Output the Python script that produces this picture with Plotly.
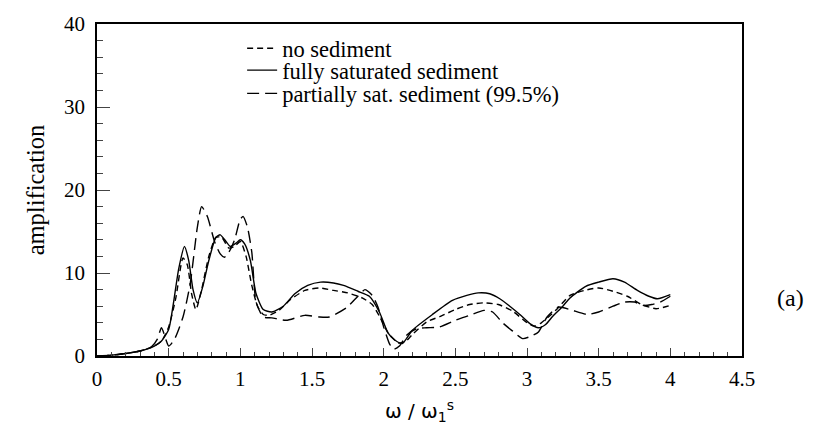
import plotly.graph_objects as go

# no sediment (short dash)
x_none = [0, 0.1, 0.2, 0.3, 0.4, 0.45, 0.5, 0.55, 0.6, 0.63, 0.66, 0.69, 0.73, 0.78, 0.83, 0.87,
          0.92, 0.96, 1.0, 1.04, 1.08, 1.12, 1.16, 1.2, 1.27, 1.35, 1.45, 1.55, 1.65, 1.75, 1.85,
          1.92, 1.97, 2.03, 2.1, 2.15, 2.2, 2.3, 2.4, 2.5, 2.6, 2.7, 2.8, 2.9, 3.0, 3.05, 3.1,
          3.2, 3.3, 3.4, 3.5, 3.6, 3.7, 3.8, 3.9, 4.0]
y_none = [0, 0.1, 0.3, 0.6, 1.2, 1.8, 3.5, 7, 11.8, 11, 7.5, 5.6, 8, 12, 14.3, 14.3,
          13, 13.2, 13.8, 12, 8.5, 6, 5, 4.9, 5.5, 6.8, 7.9, 8.2, 7.9, 7.6, 7,
          6.2, 4.8, 2.8, 1.6, 1.7, 2.6, 4.1, 4.8, 5.6, 6.2, 6.4, 6.2, 5.4, 4.0, 3.6, 4.0,
          5.5, 7.3, 7.9, 8.2, 7.8, 7.2, 6.2, 5.7, 6.1]

# fully saturated sediment (solid)
x_full = [0, 0.1, 0.2, 0.3, 0.4, 0.45, 0.5, 0.53, 0.57, 0.61, 0.64, 0.67, 0.7, 0.74, 0.78, 0.83,
          0.86, 0.9, 0.93, 0.97, 1.0, 1.03, 1.07, 1.11, 1.16, 1.22, 1.3, 1.38, 1.47, 1.56, 1.65,
          1.72, 1.82, 1.9, 1.97, 2.03, 2.08, 2.13, 2.2, 2.34, 2.48, 2.58, 2.66, 2.74, 2.81, 2.88,
          2.95, 3.02, 3.08, 3.13, 3.18, 3.25, 3.3, 3.41, 3.5, 3.6, 3.68, 3.77, 3.85, 3.91, 4.0]
y_full = [0, 0.1, 0.3, 0.6, 1.2, 1.8, 3.2, 6.0, 10.5, 13.2, 11.5, 8, 6.4, 8.5, 11.5, 14.3,
          14.6, 13.8, 13.2, 13.6, 14.0, 13.5, 11.5, 7.5, 5.6, 5.3, 6.0, 7.5, 8.5, 8.9, 8.8,
          8.5, 7.8, 7.2, 5.3, 2.8, 1.9, 1.5, 3.1, 5.0, 6.7, 7.3, 7.6, 7.5, 6.9, 6.0,
          5.0, 3.9, 3.4, 3.8, 4.8, 6.0, 7.0, 8.4, 8.9, 9.3, 8.9, 7.9, 7.2, 6.9, 7.4]

# partially saturated sediment 99.5% (long dash)
x_part = [0, 0.1, 0.2, 0.3, 0.38, 0.42, 0.45, 0.48, 0.5, 0.54, 0.6, 0.65, 0.7, 0.73, 0.77, 0.82,
          0.86, 0.89, 0.92, 0.96, 1.0, 1.02, 1.05, 1.08, 1.11, 1.16, 1.22, 1.32, 1.45, 1.55, 1.62,
          1.74, 1.82, 1.87, 1.92, 1.96, 2.0, 2.04, 2.07, 2.11, 2.16, 2.23, 2.3, 2.39, 2.5, 2.6,
          2.7, 2.76, 2.83, 2.9, 2.97, 3.03, 3.08, 3.14, 3.22, 3.3, 3.42, 3.5, 3.6, 3.68, 3.75,
          3.81, 3.87, 3.93, 4.0]
y_part = [0, 0.1, 0.3, 0.6, 1.1, 2.0, 3.4, 2.0, 1.2, 2.0, 4.7, 8.7, 15.5, 18.0, 16.8, 13.8,
          12.3, 11.9, 12.5, 14.0, 16.5, 16.8, 15.5, 12.5, 6.5, 4.7, 4.6, 4.3, 4.9, 4.7, 4.7,
          5.8, 7.2, 8.0, 7.3, 5.9, 3.5, 1.5, 0.8, 1.2, 2.5, 3.3, 3.4, 3.5, 4.3, 4.9,
          5.5, 5.3, 4.0, 3.0, 2.1, 2.4, 2.9, 4.7, 5.9, 5.6, 5.0, 5.3, 6.0, 6.5, 6.5,
          6.1, 6.2, 6.5, 7.2]

names = ["no sediment", "fully saturated sediment", "partially sat. sediment (99.5%)"]

SERIF = "Liberation Serif"

fig = go.Figure()
fig.add_trace(go.Scatter(x=x_none, y=y_none, name=names[0], mode="lines", legend="legend",
                         line=dict(color="black", width=1.4, dash="6px,4px", shape="spline", smoothing=0.6)))
fig.add_trace(go.Scatter(x=x_full, y=y_full, name=names[1], mode="lines", legend="legend2",
                         line=dict(color="black", width=1.4, shape="spline", smoothing=0.6)))
fig.add_trace(go.Scatter(x=x_part, y=y_part, name=names[2], mode="lines", legend="legend3",
                         line=dict(color="black", width=1.4, dash="12px,6px", shape="spline", smoothing=0.6)))

def leg(yc):
    return dict(x=0.225, y=yc, xanchor="left", yanchor="middle",
                bgcolor="rgba(0,0,0,0)", font=dict(family=SERIF, size=22.5),
                itemwidth=30, tracegroupgap=0)

fig.update_layout(
    width=813, height=445,
    margin=dict(l=97, r=71, t=20, b=89),
    paper_bgcolor="white", plot_bgcolor="white",
    font=dict(family=SERIF, size=21, color="black"),
    showlegend=True,
    legend=leg(0.926),
    legend2=leg(0.860),
    legend3=leg(0.790),
    xaxis=dict(range=[0, 4.5], dtick=0.5, tick0=0, ticks="inside", ticklen=8, tickwidth=1.2,
               minor=dict(dtick=0.1, ticks="inside", ticklen=4, tickwidth=1),
               showline=True, linecolor="black", linewidth=1.8, mirror=True,
               showgrid=False, zeroline=False, ticklabelstandoff=3,
               tickfont=dict(family=SERIF, size=21),
               title=dict(text="ω / ω<sub>1</sub><sup>s</sup>", standoff=14,
                          font=dict(family="DejaVu Sans", size=20))),
    yaxis=dict(range=[0, 40], dtick=10, tick0=0, ticks="inside", ticklen=13, tickwidth=1.2,
               minor=dict(dtick=2, ticks="inside", ticklen=6, tickwidth=1),
               showline=True, linecolor="black", linewidth=1.8, mirror=True,
               showgrid=False, zeroline=False, ticklabelstandoff=6,
               tickfont=dict(family=SERIF, size=21),
               title=dict(text="amplification", standoff=12,
                          font=dict(family=SERIF, size=24.5))),
)

fig.add_annotation(text="(a)", xref="paper", yref="paper", x=1.075, y=0.175,
                   showarrow=False, font=dict(family=SERIF, size=24), xanchor="center", yanchor="middle")

fig.write_html("out.html")
